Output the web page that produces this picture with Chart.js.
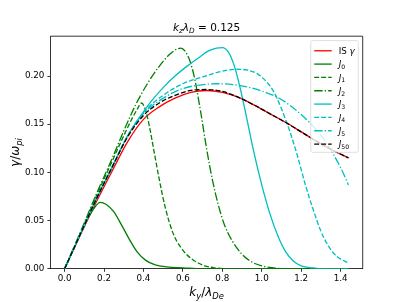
<!DOCTYPE html>
<html>
<head>
<meta charset="utf-8">
<script src="https://cdn.jsdelivr.net/npm/chart.js@4.4.1/dist/chart.umd.min.js"></script>
<style>
  html, body { margin: 0; padding: 0; background: #fff; }
  #growthChart { display: block; }
</style>
</head>
<body>
<canvas id="growthChart" width="403" height="302"></canvas>
<script>
// k_y lambda_De grids and growth rates gamma/omega_pi
const kCommon = [0, 0.08, 0.16, 0.24, 0.32, 0.40, 0.48, 0.56, 0.64, 0.72, 0.80, 0.88, 0.96, 1.04, 1.12, 1.20, 1.28, 1.36, 1.44];
const isGamma = [0, 0.035, 0.069, 0.101, 0.132, 0.155, 0.168, 0.177, 0.183, 0.185, 0.183, 0.178, 0.170, 0.161, 0.152, 0.142, 0.132, 0.123, 0.115];
const j50 = [0, 0.036, 0.072, 0.105, 0.137, 0.159, 0.172, 0.180, 0.185, 0.186, 0.184, 0.178, 0.170, 0.161, 0.152, 0.142, 0.132, 0.123, 0.115];

const j0K = [0, 0.06, 0.12, 0.15, 0.18, 0.21, 0.25, 0.29, 0.33, 0.37, 0.41, 0.46, 0.52, 0.60, 0.70, 0.90, 1.44];
const j0 = [0, 0.027, 0.053, 0.063, 0.069, 0.067, 0.059, 0.045, 0.030, 0.017, 0.009, 0.004, 0.002, 0.001, 0, 0, 0];

const j1K = [0, 0.08, 0.16, 0.24, 0.30, 0.34, 0.37, 0.39, 0.41, 0.43, 0.45, 0.48, 0.51, 0.55, 0.59, 0.64, 0.70, 0.76, 0.84, 1.44];
const j1 = [0, 0.037, 0.075, 0.111, 0.138, 0.155, 0.166, 0.172, 0.165, 0.148, 0.126, 0.093, 0.064, 0.037, 0.022, 0.011, 0.004, 0.001, 0, 0];

const j2K = [0, 0.08, 0.16, 0.24, 0.30, 0.36, 0.42, 0.48, 0.53, 0.57, 0.59, 0.61, 0.635, 0.66, 0.69, 0.72, 0.75, 0.78, 0.81, 0.85, 0.90, 0.95, 1.00, 1.06, 1.12, 1.44];
const j2 = [0, 0.038, 0.077, 0.114, 0.143, 0.170, 0.192, 0.210, 0.222, 0.228, 0.229, 0.226, 0.216, 0.197, 0.163, 0.125, 0.092, 0.066, 0.046, 0.029, 0.015, 0.007, 0.003, 0.001, 0, 0];

const j3K = [0, 0.08, 0.16, 0.24, 0.32, 0.38, 0.44, 0.50, 0.56, 0.62, 0.68, 0.73, 0.77, 0.80, 0.83, 0.86, 0.89, 0.92, 0.96, 1.00, 1.04, 1.08, 1.12, 1.16, 1.20, 1.26, 1.32, 1.44];
const j3 = [0, 0.036, 0.072, 0.105, 0.138, 0.157, 0.174, 0.188, 0.200, 0.210, 0.219, 0.226, 0.229, 0.2295, 0.225, 0.211, 0.188, 0.160, 0.121, 0.087, 0.058, 0.035, 0.018, 0.008, 0.003, 0.001, 0, 0];

const j4K = [0, 0.08, 0.16, 0.24, 0.32, 0.40, 0.50, 0.60, 0.70, 0.80, 0.87, 0.93, 0.98, 1.02, 1.06, 1.10, 1.14, 1.18, 1.22, 1.26, 1.30, 1.34, 1.38, 1.44];
const j4 = [0, 0.036, 0.072, 0.105, 0.138, 0.162, 0.180, 0.192, 0.199, 0.205, 0.207, 0.206, 0.202, 0.195, 0.184, 0.166, 0.144, 0.118, 0.088, 0.062, 0.039, 0.023, 0.013, 0.006];

const j5K = [0, 0.08, 0.16, 0.24, 0.32, 0.40, 0.50, 0.60, 0.70, 0.78, 0.86, 0.94, 1.02, 1.08, 1.14, 1.20, 1.26, 1.32, 1.36, 1.40, 1.44];
const j5 = [0, 0.036, 0.072, 0.105, 0.138, 0.161, 0.177, 0.187, 0.191, 0.192, 0.191, 0.188, 0.183, 0.178, 0.170, 0.160, 0.148, 0.133, 0.120, 0.105, 0.087];

const xTicks = [0, 0.2, 0.4, 0.6, 0.8, 1.0, 1.2, 1.4];
const yTicks = [0, 0.05, 0.10, 0.15, 0.20];

// label pieces: [text, italic, subscript]
const titleParts = [["k", 1, 0], ["z", 1, 1], ["λ", 1, 0], ["D", 1, 1], [" = 0.125", 0, 0]];
const xLabelParts = [["k", 1, 0], ["y", 1, 1], ["/", 0, 0], ["λ", 1, 0], ["De", 1, 1]];
const yLabelParts = [["γ", 1, 0], ["/", 0, 0], ["ω", 1, 0], ["pi", 1, 1]];

const LW = 1.31;
const DASHED = [4.9, 2.1];
const DASHDOT = [8.4, 2.1, 1.3, 2.1];

const series = [
  { label: [["IS ", 0, 0], ["γ", 1, 0]], k: kCommon, y: isGamma, color: "#ff0000", dash: [] },
  { label: [["J", 1, 0], ["0", 0, 1]], k: j0K, y: j0, color: "#008000", dash: [] },
  { label: [["J", 1, 0], ["1", 0, 1]], k: j1K, y: j1, color: "#008000", dash: DASHED },
  { label: [["J", 1, 0], ["2", 0, 1]], k: j2K, y: j2, color: "#008000", dash: DASHDOT },
  { label: [["J", 1, 0], ["3", 0, 1]], k: j3K, y: j3, color: "#00bfbf", dash: [] },
  { label: [["J", 1, 0], ["4", 0, 1]], k: j4K, y: j4, color: "#00bfbf", dash: DASHED },
  { label: [["J", 1, 0], ["5", 0, 1]], k: j5K, y: j5, color: "#00bfbf", dash: DASHDOT },
  { label: [["J", 1, 0], ["50", 0, 1]], k: kCommon, y: j50, color: "#000000", dash: DASHED }
];

const FONT = '"DejaVu Sans", sans-serif';

function fontFor(size, italic) {
  return (italic ? "italic " : "") + size + "px " + FONT;
}

// draws text with italic letters and subscripts, mathtext style
function drawMath(ctx, parts, x, y, size, align) {
  const pieces = parts.map(([t, it, sub]) => {
    const sz = sub ? size * 0.7 : size;
    ctx.font = fontFor(sz, it);
    return { t, f: ctx.font, w: ctx.measureText(t).width, dy: sub ? size * 0.22 : 0 };
  });
  const total = pieces.reduce((s, p) => s + p.w, 0);
  let cx = align === "center" ? x - total / 2 : x;
  ctx.textAlign = "left";
  ctx.textBaseline = "alphabetic";
  ctx.fillStyle = "#000";
  pieces.forEach(p => {
    ctx.font = p.f;
    ctx.fillText(p.t, cx, y + p.dy);
    cx += p.w;
  });
}

const decorations = {
  id: "decorations",
  afterDraw(chart) {
    const ctx = chart.ctx;
    const a = chart.chartArea;
    ctx.save();

    // top and right spines
    ctx.strokeStyle = "#000";
    ctx.lineWidth = 0.8;
    ctx.beginPath();
    ctx.moveTo(a.left, a.top);
    ctx.lineTo(a.right, a.top);
    ctx.lineTo(a.right, a.bottom);
    ctx.stroke();

    const midX = (a.left + a.right) / 2;
    drawMath(ctx, titleParts, midX, a.top - 5.3, 10.5, "center");
    drawMath(ctx, xLabelParts, midX, 296, 12, "center");

    ctx.save();
    ctx.translate(19, (a.top + a.bottom) / 2);
    ctx.rotate(-Math.PI / 2);
    drawMath(ctx, yLabelParts, 0, 0, 12, "center");
    ctx.restore();

    // legend box, upper right
    const fs = 8.75;
    const x1 = a.right - 4.4, y0 = a.top + 4.4;
    const x0 = 310.7, rowH = 13.33;
    const y1 = y0 + 3.5 + series.length * rowH + 1.6;
    const r = 2;
    ctx.beginPath();
    ctx.moveTo(x0 + r, y0);
    ctx.lineTo(x1 - r, y0);
    ctx.arcTo(x1, y0, x1, y0 + r, r);
    ctx.lineTo(x1, y1 - r);
    ctx.arcTo(x1, y1, x1 - r, y1, r);
    ctx.lineTo(x0 + r, y1);
    ctx.arcTo(x0, y1, x0, y1 - r, r);
    ctx.lineTo(x0, y0 + r);
    ctx.arcTo(x0, y0, x0 + r, y0, r);
    ctx.closePath();
    ctx.fillStyle = "rgba(255,255,255,0.8)";
    ctx.fill();
    ctx.strokeStyle = "rgba(204,204,204,0.8)";
    ctx.lineWidth = 0.8;
    ctx.stroke();

    series.forEach((s, i) => {
      const cy = y0 + 3.5 + rowH * i + rowH / 2;
      ctx.strokeStyle = s.color;
      ctx.lineWidth = LW;
      ctx.setLineDash(s.dash);
      ctx.beginPath();
      ctx.moveTo(x0 + 3.5, cy);
      ctx.lineTo(x0 + 21, cy);
      ctx.stroke();
      ctx.setLineDash([]);
      drawMath(ctx, s.label, x0 + 28, cy + 3.1, fs, "left");
    });

    ctx.restore();
  }
};

const ctx = document.getElementById("growthChart").getContext("2d");
new Chart(ctx, {
  type: "line",
  data: {
    datasets: series.map((s, i) => ({
      data: s.k.map((k, j) => ({ x: k, y: s.y[j] })),
      borderColor: s.color,
      borderWidth: LW,
      borderDash: s.dash,
      pointRadius: 0,
      fill: false,
      cubicInterpolationMode: "monotone",
      order: series.length - i
    }))
  },
  options: {
    responsive: false,
    animation: false,
    devicePixelRatio: 1,
    layout: { padding: { top: 36.2, right: 40.3, left: 0, bottom: 0 } },
    plugins: {
      legend: { display: false },
      tooltip: { enabled: false },
      title: { display: false }
    },
    scales: {
      x: {
        type: "linear",
        min: -0.072,
        max: 1.512,
        afterBuildTicks: s => { s.ticks = xTicks.map(v => ({ value: v })); },
        afterFit: s => { s.height = 33.2; },
        ticks: {
          color: "#000",
          font: { family: FONT, size: 8.75 },
          padding: 2,
          maxRotation: 0,
          autoSkip: false,
          callback: v => v.toFixed(1)
        },
        grid: { display: true, drawOnChartArea: false, drawTicks: true, tickLength: 3, tickWidth: 0.8, tickColor: "#000" },
        border: { display: true, color: "#000", width: 0.8 }
      },
      y: {
        min: 0,
        max: 0.2413,
        afterBuildTicks: s => { s.ticks = yTicks.map(v => ({ value: v })); },
        afterFit: s => { s.width = 50.4; },
        ticks: {
          color: "#000",
          font: { family: FONT, size: 8.75 },
          padding: 3,
          autoSkip: false,
          callback: v => v.toFixed(2)
        },
        grid: { display: true, drawOnChartArea: false, drawTicks: true, tickLength: 3, tickWidth: 0.8, tickColor: "#000" },
        border: { display: true, color: "#000", width: 0.8 }
      }
    }
  },
  plugins: [decorations]
});
</script>
</body>
</html>
